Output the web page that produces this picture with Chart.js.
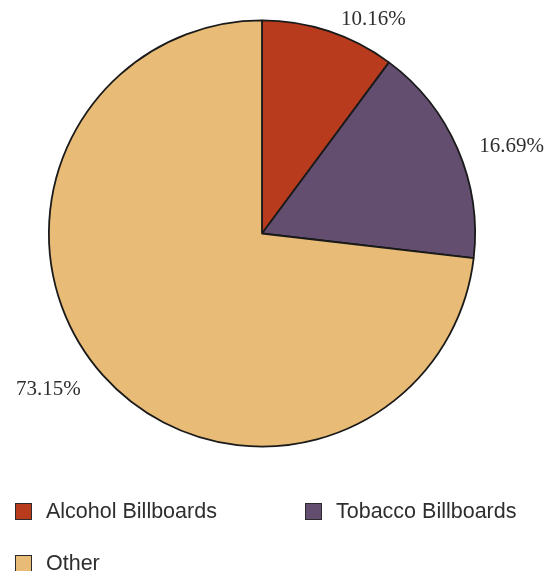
<!DOCTYPE html>
<html>
<head>
<meta charset="utf-8">
<script src="https://cdn.jsdelivr.net/npm/chart.js@4/dist/chart.umd.min.js"></script>
<style>
  html, body { margin: 0; padding: 0; background: #fff; }
  #wrap { position: relative; width: 555px; height: 571px; overflow: hidden; }
  #legend { position: absolute; left: 0; top: 0; width: 555px; height: 571px; pointer-events: none; }
  .item { position: absolute; display: flex; align-items: center; font-family: "Liberation Sans", Arial, sans-serif; font-size: 21.5px; color: #2e2e2e; }
  .box { width: 15px; height: 15px; border: 1.5px solid #2b2b2b; margin-right: 14px; }
</style>
</head>
<body>
<div id="wrap">
  <canvas id="myChart" width="555" height="571"></canvas>
  <div id="legend"></div>
</div>
<script>
const categories = ['Alcohol Billboards', 'Tobacco Billboards', 'Other'];
const shares = [10.16, 16.69, 73.15];
const colors = ['#b83b1e', '#634e6f', '#e8bb77'];

// legend item spots (left, vertical centre)
const legendSpots = [[15, 511], [305, 511], [15, 563]];

const outsideLabels = {
    id: 'outsideLabels',
    afterDatasetsDraw(chart) {
        const ctx = chart.ctx;
        const meta = chart.getDatasetMeta(0);
        ctx.save();
        ctx.font = '21px "Liberation Serif", "Times New Roman", serif';
        ctx.fillStyle = '#2e2e2e';
        ctx.textBaseline = 'middle';
        meta.data.forEach((arc, i) => {
            const mid = (arc.startAngle + arc.endAngle) / 2;
            const r = arc.outerRadius + 16;
            const cos = Math.cos(mid);
            let x = arc.x + r * cos;
            const y = arc.y + r * Math.sin(mid) + 4;
            if (cos >= 0) { ctx.textAlign = 'left'; x += 7; }
            else { ctx.textAlign = 'right'; x -= 10; }
            ctx.fillText(shares[i].toFixed(2) + '%', x, y);
        });
        ctx.restore();
    }
};

const chart = new Chart(document.getElementById('myChart'), {
    type: 'pie',
    data: {
        labels: categories,
        datasets: [{
            data: shares,
            backgroundColor: colors,
            borderColor: '#1a1a1a',
            borderWidth: 1.8
        }]
    },
    options: {
        responsive: false,
        animation: false,
        layout: { padding: { left: 48, right: 79, top: 19, bottom: 123 } },
        plugins: { legend: { display: false }, tooltip: { enabled: false } }
    },
    plugins: [outsideLabels]
});

const legendEl = document.getElementById('legend');
categories.forEach((name, i) => {
    const item = document.createElement('div');
    item.className = 'item';
    item.style.left = legendSpots[i][0] + 'px';
    item.style.top = (legendSpots[i][1] - 12) + 'px';
    item.style.height = '24px';
    const box = document.createElement('span');
    box.className = 'box';
    box.style.background = colors[i];
    item.appendChild(box);
    item.appendChild(document.createTextNode(name));
    legendEl.appendChild(item);
});
</script>
</body>
</html>
